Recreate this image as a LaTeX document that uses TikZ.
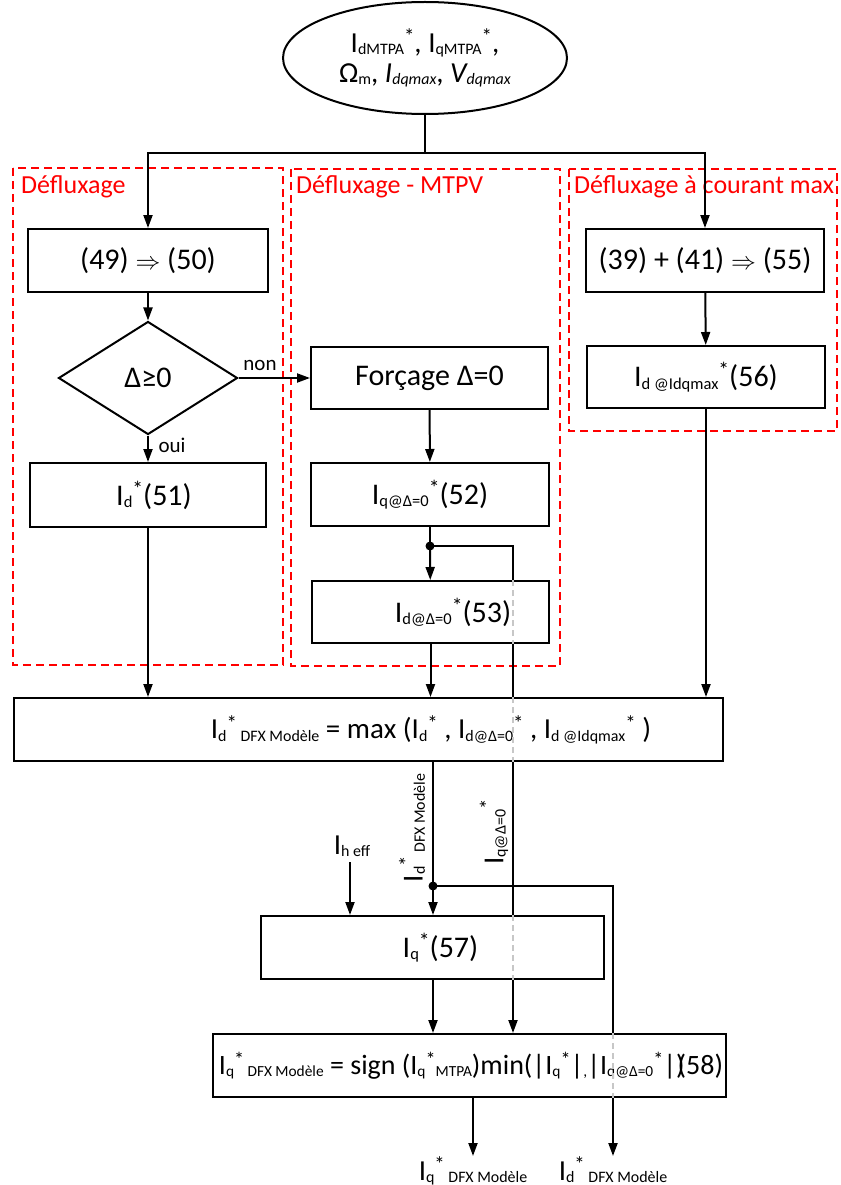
\documentclass[tikz,border=0pt]{standalone}
\usepackage{fontspec}
\setmainfont{Carlito}
\usepackage{graphicx}
\usetikzlibrary{shapes.geometric,arrows.meta}
\newcommand\dsub[1]{\raisebox{-.08em}{\scalebox{.55}{#1}}}
\newcommand\dsup[1]{\raisebox{.3em}{\scalebox{.72}{#1}}}
\begin{document}
\begin{tikzpicture}[x=1pt,y=-1pt,
  box/.style={draw, line width=2pt, fill=white, inner sep=0pt, font=\fontsize{30}{34}\selectfont},
  frame/.style={draw=red, line width=1.9pt, dash pattern=on 8pt off 5pt},
  flabel/.style={text=red, font=\fontsize{26}{30}\selectfont, anchor=west, inner sep=0pt},
  conn/.style={line width=2pt},
  arr/.style={conn, -{Triangle[length=13pt,width=9pt]}},
  gdash/.style={draw=black!22, line width=1.6pt, dash pattern=on 6pt off 4pt},
  small/.style={font=\fontsize{21}{24}\selectfont, inner sep=0pt},
  txt/.style={font=\fontsize{29}{33}\selectfont, inner sep=0pt}
]
\useasboundingbox (0,0) rectangle (840,1185);

% red dashed frames
\draw[frame] (13,168) rectangle (283,665);
\draw[frame] (291,169) rectangle (560,666);
\draw[frame] (569,169) rectangle (837,431);
\node[flabel] (lab1) at (21,187) {Défluxage};
\node[flabel] (lab2) at (296,187) {Défluxage - MTPV};
\node[flabel] (lab3) at (574,187) {Défluxage à courant max};

% nodes
\node[draw, ellipse, line width=2pt, minimum width=284, minimum height=112, inner sep=0pt, align=center, font=\fontsize{29}{33}\selectfont] (ell) at (425,58)
  {I\dsub{dMTPA}\dsup{*}, I\dsub{qMTPA}\dsup{*},\\[-3pt]
   Ω\dsub{m}, \textit{I\dsub{dqmax}}, \textit{V\dsub{dqmax}}};

\node[box, minimum width=240, minimum height=63] (b49) at (148,260.5) {(49) $\Rightarrow$ (50)};
\node[box, draw, diamond, fill=white, minimum width=179, minimum height=113] (dia) at (148,378) {Δ≥0};
\node[box, minimum width=236, minimum height=64] (b51) at (148,495) {\hspace*{12pt}I\dsub{d}\dsup{*}(51)};

\node[box, minimum width=237, minimum height=62] (forc) at (429.5,378) {Forçage Δ=0};
\node[box, minimum width=238, minimum height=63] (b52) at (430,494.5) {I\dsub{q@Δ=0}\dsup{*}(52)};
\node[box, minimum width=237, minimum height=62] (b53) at (430.5,612) {\hspace*{45pt}I\dsub{d@Δ=0}\dsup{*}(53)};

\node[box, minimum width=238, minimum height=63] (b55) at (705,260.5) {(39) + (41) $\Rightarrow$ (55)};
\node[box, minimum width=238, minimum height=62] (b56) at (706,377) {I\dsub{d @Idqmax}\dsup{*}(56)};

\node[box, minimum width=709, minimum height=63] (main) at (368.5,729.5) {};
\node[txt] (mtxt) at (431,729.5)
  {I\dsub{d}\dsup{*}\dsub{\ DFX Modèle} = max (I\dsub{d}\dsup{*} , I\dsub{d@Δ=0}\dsup{*} , I\dsub{d @Idqmax}\dsup{*} )};

\node[box, minimum width=343, minimum height=63] (b57) at (432.5,947.5) {\hspace*{16pt}I\dsub{q}\dsup{*}(57)};
\node[box, minimum width=513, minimum height=63] (b58) at (469.5,1065.5) {};
\node[txt, font=\fontsize{28}{32}\selectfont] (b58t) at (471,1065.5)
  {I\dsub{q}\dsup{*}\dsub{\ DFX Modèle} = sign (I\dsub{q}\dsup{*}\dsub{MTPA})min(|I\dsub{q}\dsup{*}|\dsub{,}|I\dsub{q@Δ=0}\dsup{*}|)\kern-.25em(58)};

% labels
\node[small] (lnon) at (260,365) {non};
\node[small] (loui) at (172,445) {oui};
\node[txt] (lih) at (352,846) {I\dsub{h eff}};
\node[txt, rotate=90] (lid) at (412,828) {I\dsub{d}\dsup{*}\dsub{\ DFX Modèle}};
\node[txt, rotate=90] (liq) at (494,832) {I\dsub{q@Δ=0}\dsup{*}};
\node[txt, anchor=base] (loq) at (473,1180) {I\dsub{q}\dsup{*}\dsub{\ DFX Modèle}};
\node[txt, anchor=base] (lod) at (613,1180) {I\dsub{d}\dsup{*}\dsub{\ DFX Modèle}};

% connectors
\coordinate (jn) at (425,153);
\draw[conn] (ell) -- (jn);
\draw[arr] (jn) -| (b49);
\draw[arr] (jn) -| (b55);
\draw[arr] (b49) -- (dia);
\draw[arr] (dia) -- (forc);
\draw[arr] (dia) -- (b51);
\draw[arr] (b51) -- (b51 |- main.north);
\draw[arr] (forc) -- (b52);
\coordinate (d1) at (430,546);
\draw[conn] (b52) -- (d1);
\draw[arr] (d1) -- (b53);
\draw[arr] (b53) -- (b53 |- main.north);
\draw[arr] (b55) -- (b56);
\draw[arr] (b56) -- (b56 |- main.north);

% Iq@Delta=0 line
\coordinate (xq) at (513,546);
\draw[conn] (d1) -- (xq) -- (xq |- b53.north);
\draw[gdash] (xq |- b53.north) -- (xq |- b53.south);
\draw[conn] (xq |- b53.south) -- (xq |- main.north);
\draw[gdash] (xq |- main.north) -- (xq |- main.south);
\draw[conn] (xq |- main.south) -- (xq |- b57.north);
\draw[gdash] (xq |- b57.north) -- (xq |- b57.south);
\draw[arr] (xq |- b57.south) -- (xq |- b58.north);

% Id DFX line
\coordinate (d2) at (433,886);
\coordinate (xd) at (613,886);
\coordinate (outd) at (613,1156);
\draw[conn] (d2 |- main.south) -- (d2);
\draw[arr] (d2) -- (d2 |- b57.north);
\draw[conn] (d2) -- (xd) -- (xd |- b58.north);
\draw[gdash] (xd |- b58.north) -- (xd |- b58.south);
\draw[arr] (xd |- b58.south) -- (outd);

\coordinate (ih) at (350,862);
\draw[arr] (ih) -- (ih |- b57.north);
\draw[arr] (b57.south -| d2) -- (d2 |- b58.north);
\coordinate (outq) at (473,1156);
\draw[arr] (outq |- b58.south) -- (outq);

\fill (d1) circle (4.5pt);
\fill (d2) circle (4.5pt);
\end{tikzpicture}
\end{document}
